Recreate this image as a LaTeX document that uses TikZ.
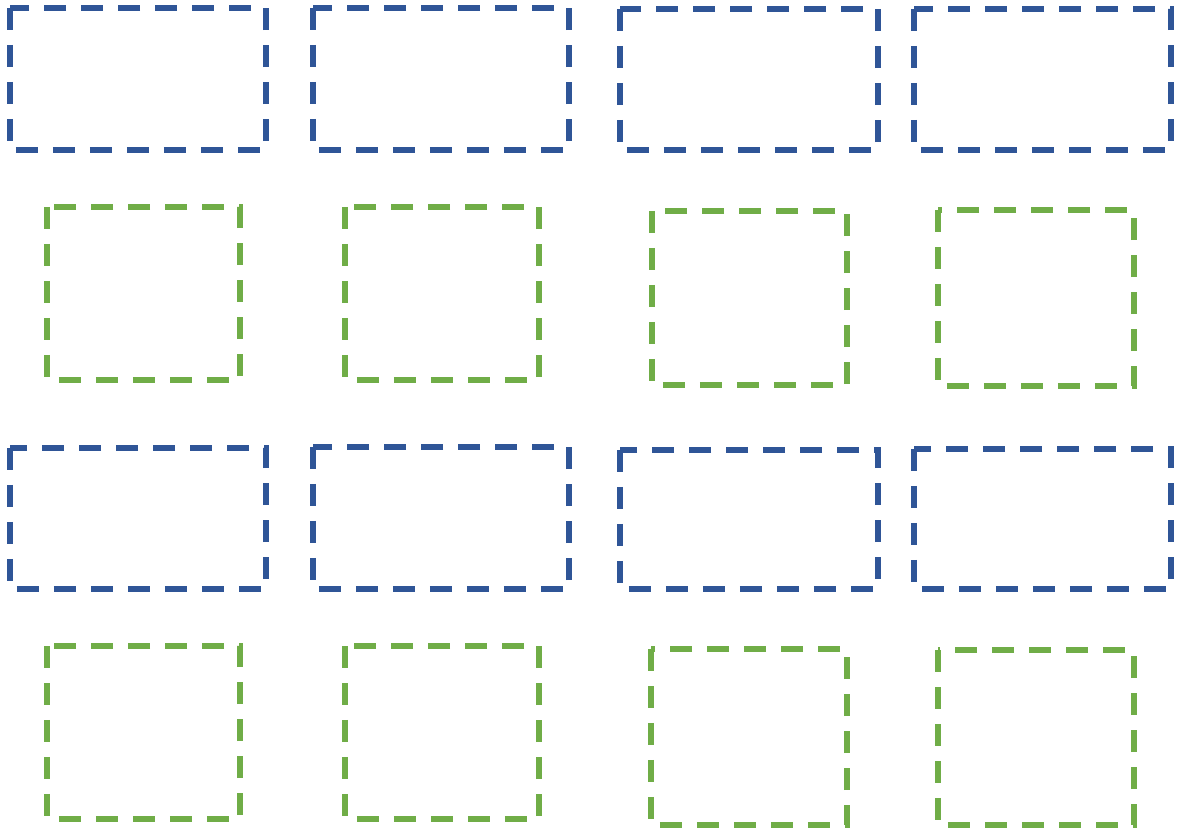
\documentclass[tikz,border=0pt]{standalone}
\usepackage{tikz}

\definecolor{boxblue}{HTML}{2F5597}
\definecolor{boxgreen}{HTML}{70AD47}

\tikzset{
  bluebox/.style={draw=boxblue, line width=0.11cm, dash pattern=on 0.44cm off 0.3cm},
  greenbox/.style={draw=boxgreen, line width=0.11cm, dash pattern=on 0.44cm off 0.3cm}
}

\begin{document}
\begin{tikzpicture}[x=0.02cm, y=-0.02cm]
    \useasboundingbox (0,0) rectangle (1179,831);
    % top row of wide boxes
    \draw[bluebox] (10,8) rectangle (266,150);
    \draw[bluebox] (313,8) rectangle (569,150);
    \draw[bluebox] (620,9) rectangle (878,150);
    \draw[bluebox] (914,9) rectangle (1171,150);
    % square boxes below them
    \draw[greenbox] (47,207) rectangle (240,380);
    \draw[greenbox] (345,207) rectangle (539,380);
    \draw[greenbox] (652,211) rectangle (847,385);
    \draw[greenbox] (938,210) rectangle (1134,386);
    % second row of wide boxes
    \draw[bluebox] (10,448) rectangle (266,589);
    \draw[bluebox] (313,447) rectangle (569,589);
    \draw[bluebox] (620,450) rectangle (878,589);
    \draw[bluebox] (914,449) rectangle (1171,589);
    % bottom row
    \draw[greenbox] (47,646) rectangle (240,819);
    \draw[greenbox] (345,646) rectangle (539,819);
    \draw[greenbox] (651,649) rectangle (847,825);
    \draw[greenbox] (938,650) rectangle (1134,825);
\end{tikzpicture}
\end{document}
